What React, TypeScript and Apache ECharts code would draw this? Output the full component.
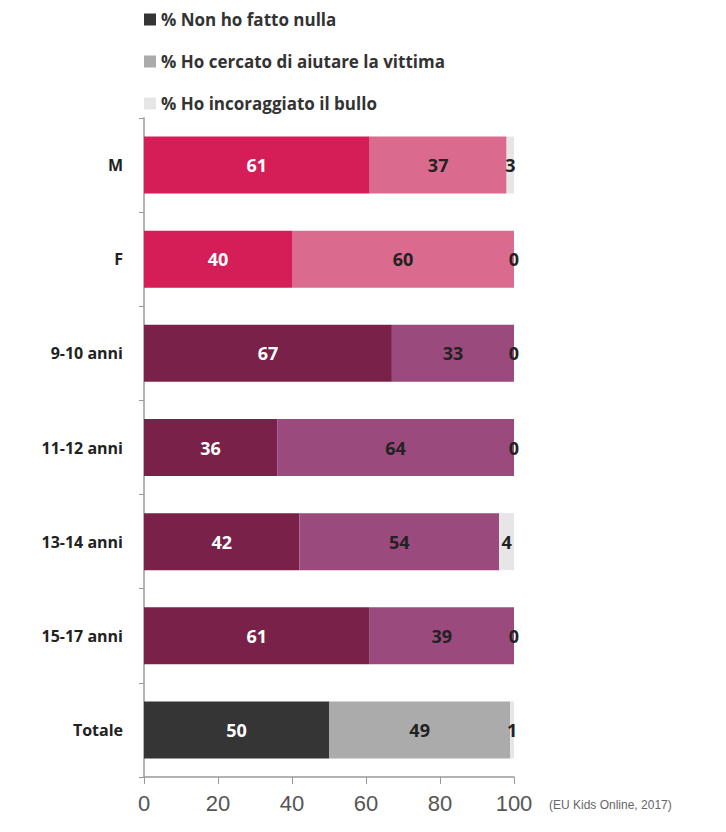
import React, { useEffect, useRef } from "react";
import * as echarts from "echarts";

const categories = ["M", "F", "9-10 anni", "11-12 anni", "13-14 anni", "15-17 anni", "Totale"];
const nonHoFattoNulla = [61, 40, 67, 36, 42, 61, 50];
const hoCercatoDiAiutare = [37, 60, 33, 64, 54, 39, 49];
const hoIncoraggiato = [3, 0, 0, 0, 4, 0, 1];
const seriesNames = ["% Non ho fatto nulla", "% Ho cercato di aiutare la vittima", "% Ho incoraggiato il bullo"];
const xTicks = [0, 20, 40, 60, 80, 100];

const darkColors = ["#d51d57", "#d51d57", "#7a2149", "#7a2149", "#7a2149", "#7a2149", "#353535"];
const lightColors = ["#da6b8e", "#da6b8e", "#9a4a7c", "#9a4a7c", "#9a4a7c", "#9a4a7c", "#ababab"];

export default function App() {
  const ref = useRef<HTMLDivElement>(null);
  useEffect(() => {
    if (!ref.current) return;
    const chart = echarts.init(ref.current, undefined, { renderer: "svg" });
    const font = "'Open Sans', sans-serif";
    chart.setOption({
      animation: false,
      backgroundColor: "#ffffff",
      legend: {
        orient: "vertical",
        left: 139,
        top: 6,
        itemWidth: 12,
        itemHeight: 12,
        itemGap: 25,
        icon: "rect",
        textStyle: { fontFamily: font, fontSize: 17, fontWeight: "bold", color: "#333" },
        data: seriesNames,
      },
      grid: { left: 144, right: 212, top: 118, bottom: 55 },
      xAxis: {
        type: "value",
        min: 0,
        max: 100,
        interval: 20,
        splitLine: { show: false },
        axisLine: { show: true, lineStyle: { color: "#999", width: 1.5 } },
        axisTick: { show: true, length: 7, lineStyle: { color: "#999" } },
        axisLabel: {
          color: "#555",
          fontFamily: "'Liberation Sans Narrow', 'Liberation Sans', sans-serif",
          fontSize: 22,
          margin: 15,
          formatter: (v: number) => (xTicks.includes(v) ? String(v) : ""),
        },
      },
      yAxis: {
        type: "category",
        inverse: true,
        data: categories,
        axisLine: { show: true, lineStyle: { color: "#999", width: 1.5 } },
        axisTick: { show: true, length: 5, lineStyle: { color: "#999" } },
        axisLabel: { color: "#222", fontFamily: font, fontSize: 16, fontWeight: "bold", margin: 21 },
      },
      series: [
        {
          name: seriesNames[0],
          type: "bar",
          stack: "t",
          barWidth: 57,
          color: "#353535",
          data: nonHoFattoNulla.map((v, i) => ({ value: v, itemStyle: { color: darkColors[i] } })),
          label: { show: true, position: "inside", color: "#fff", fontFamily: font, fontSize: 18, fontWeight: "bold" },
        },
        {
          name: seriesNames[1],
          type: "bar",
          stack: "t",
          barWidth: 57,
          color: "#ababab",
          data: hoCercatoDiAiutare.map((v, i) => ({ value: v, itemStyle: { color: lightColors[i] } })),
          label: { show: true, position: "inside", color: "#222", fontFamily: font, fontSize: 18, fontWeight: "bold" },
        },
        {
          name: seriesNames[2],
          type: "bar",
          stack: "t",
          barWidth: 57,
          color: "#e6e6e6",
          data: hoIncoraggiato,
          label: { show: true, position: "inside", color: "#222", fontFamily: font, fontSize: 18, fontWeight: "bold" },
        },
      ],
      graphic: [
        {
          type: "text",
          left: 549,
          top: 799,
          style: {
            text: "(EU Kids Online, 2017)",
            fill: "#666",
            font: "12px 'Liberation Sans Narrow', 'Liberation Sans', sans-serif",
          },
        },
      ],
    });
    return () => chart.dispose();
  }, []);
  return <div ref={ref} style={{ position: "absolute", left: 0, top: 0, width: 726, height: 832 }} />;
}
